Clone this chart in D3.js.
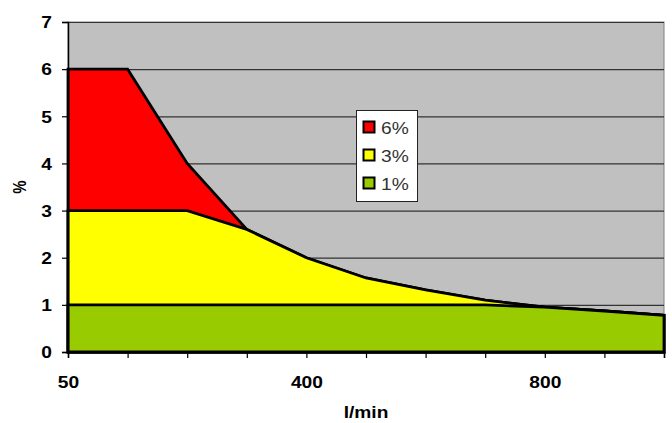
<!DOCTYPE html>
<html>
<head>
<meta charset="utf-8">
<script src="https://cdn.jsdelivr.net/npm/d3@7"></script>
<style>
  body { margin: 0; background: #fff; }
  text { font-family: "Liberation Sans", Arial, sans-serif; }
</style>
</head>
<body>
<div id="chart"></div>
<script>
// flow categories (l/min)
var categories = [50, 100, 200, 300, 400, 500, 600, 700, 800, 900, 1000];
var shownLabels = [50, 400, 800];

// series values (%)
var series6 = [6, 6, 4, 2.6, 2.0, 1.57, 1.32, 1.1, 0.95, 0.87, 0.78];
var series3 = [3, 3, 3, 2.6, 2.0, 1.57, 1.32, 1.1, 0.95, 0.87, 0.78];
var series1 = [1, 1, 1, 1, 1, 1, 1, 1, 0.95, 0.87, 0.78];

var yTicks = [0, 1, 2, 3, 4, 5, 6, 7];

var seriesList = [
  { "name": "6%", "values": series6, "color": "#ff0000" },
  { "name": "3%", "values": series3, "color": "#ffff00" },
  { "name": "1%", "values": series1, "color": "#99cc00" }
];

var width = 672, height = 423;
var plotLeft = 68, plotRight = 664, plotTop = 22, plotBottom = 352;
var stretch = 1.2;  // the original picture is a bit wider than tall

var svg = d3.select("#chart").append("svg")
            .attr("width", width)
            .attr("height", height)
            .attr("display", "block");

var x = d3.scalePoint().domain(categories).range([plotLeft, plotRight]);
var y = d3.scaleLinear().domain([0, 7]).range([plotBottom, plotTop]);

// plot background
svg.append("rect")
   .attr("x", plotLeft).attr("y", plotTop)
   .attr("width", plotRight - plotLeft).attr("height", plotBottom - plotTop)
   .style("fill", "#c0c0c0")
   .style("stroke", "#808080")
   .style("stroke-width", 1);

// gridlines
svg.append("g")
   .selectAll("line")
   .data(yTicks.filter(function (d) { return d > 0; }))
   .enter()
   .append("line")
   .attr("x1", plotLeft).attr("x2", plotRight)
   .attr("y1", function (d) { return y(d) + 0.5; })
   .attr("y2", function (d) { return y(d) + 0.5; })
   .style("stroke", "#333")
   .style("stroke-width", 1.2);

// areas, drawn back to front
var area = d3.area()
             .x(function (d, i) { return x(categories[i]); })
             .y0(y(0))
             .y1(function (d) { return y(d); });

svg.append("g")
   .selectAll("path")
   .data(seriesList)
   .enter()
   .append("path")
   .attr("d", function (d) { return area(d.values); })
   .style("fill", function (d) { return d.color; })
   .style("stroke", "#000")
   .style("stroke-width", 2.8)
   .style("stroke-linejoin", "miter");

// y axis
var yAxis = d3.axisLeft(y).tickValues(yTicks).tickSize(6).tickFormat(d3.format("d"));
var gy = svg.append("g").attr("transform", "translate(" + plotLeft + ",0)").call(yAxis);
gy.select(".domain").style("stroke", "#000").style("stroke-width", 1.5);
gy.selectAll(".tick line").style("stroke", "#000").style("stroke-width", 1.2);
gy.selectAll("text")
  .attr("x", -16 / stretch)
  .attr("dy", "0.36em")
  .attr("transform", "scale(" + stretch + ",1)")
  .style("font-size", "16px")
  .style("font-weight", "bold")
  .style("fill", "#000");

// x axis
var xAxis = d3.axisBottom(x).tickSize(6).tickPadding(19)
              .tickFormat(function (d) { return shownLabels.indexOf(d) >= 0 ? d : ""; });
var gx = svg.append("g").attr("transform", "translate(0," + plotBottom + ")").call(xAxis);
gx.select(".domain").style("stroke", "#000").style("stroke-width", 1.5);
gx.selectAll(".tick line").style("stroke", "#000").style("stroke-width", 1.2);
gx.selectAll("text")
  .attr("transform", "scale(" + stretch + ",1)")
  .style("font-size", "16px")
  .style("font-weight", "bold")
  .style("fill", "#000");

// axis titles
svg.append("text")
   .attr("transform", "translate(26,187) rotate(-90) scale(1," + stretch + ")")
   .attr("text-anchor", "middle")
   .style("font-size", "15px")
   .style("font-weight", "bold")
   .text("%");

svg.append("text")
   .attr("transform", "translate(366,418) scale(" + stretch + ",1)")
   .attr("text-anchor", "middle")
   .style("font-size", "16px")
   .style("font-weight", "bold")
   .text("l/min");

// legend
var legend = svg.append("g").attr("transform", "translate(356,110)");
legend.append("rect")
      .attr("x", 0.5).attr("y", 0.5)
      .attr("width", 61).attr("height", 91)
      .style("fill", "#fff")
      .style("stroke", "#222")
      .style("stroke-width", 1);

var items = legend.selectAll(".item")
                  .data(seriesList)
                  .enter()
                  .append("g")
                  .attr("transform", function (d, i) { return "translate(0," + (11 + i * 28) + ")"; });

items.append("rect")
     .attr("x", 7.5).attr("y", 0.5)
     .attr("width", 11).attr("height", 11)
     .style("fill", function (d) { return d.color; })
     .style("stroke", "#000")
     .style("stroke-width", 2);

items.append("text")
     .attr("transform", "translate(25,12.5) scale(" + stretch + ",1)")
     .style("font-size", "16px")
     .style("fill", "#333")
     .text(function (d) { return d.name; });
</script>
</body>
</html>
